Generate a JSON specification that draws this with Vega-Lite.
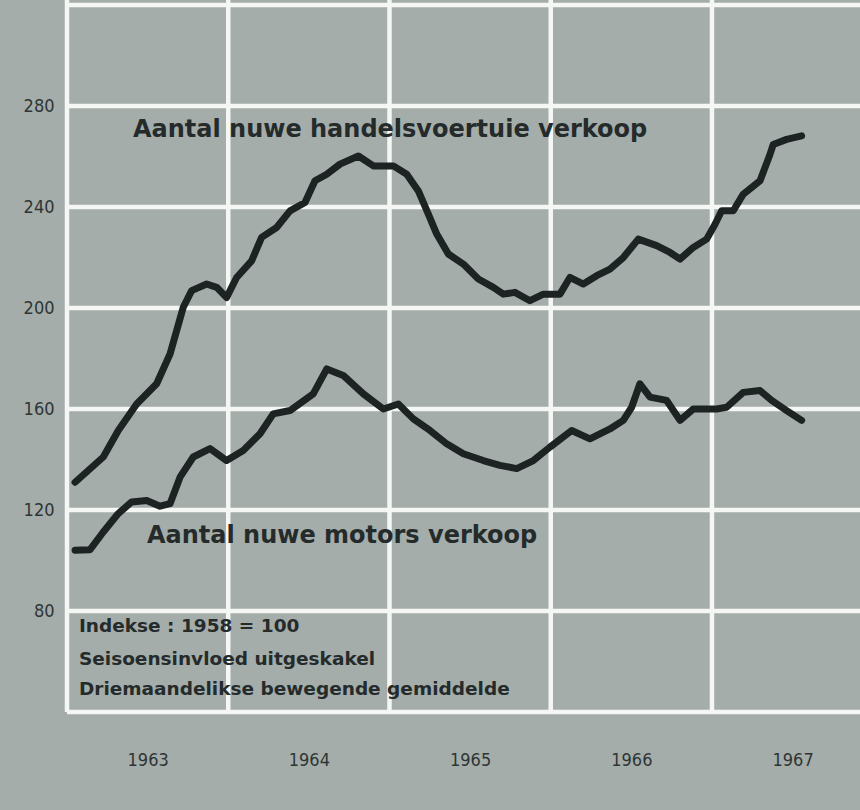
{
  "$schema": "https://vega.github.io/schema/vega-lite/v6.json",
  "width": 793,
  "height": 712,
  "autosize": {"type": "none"},
  "padding": {"left": 67, "top": 0, "right": 0, "bottom": 98},
  "background": "#a4adaa",
  "config": {
    "view": {"stroke": null, "fill": "#a4adaa"},
    "axis": {"grid": false, "ticks": false, "domain": false, "title": null,
      "labelFont": "Liberation Sans Narrow, DejaVu Sans Condensed, sans-serif",
      "labelFontSize": 18, "labelColor": "#2f3535"}
  },
  "datasets": {
    "reeks": [
      {"reeks": "handelsvoertuie", "jaar": 1963.050, "waarde": 131.0},
      {"reeks": "handelsvoertuie", "jaar": 1963.225, "waarde": 141.0},
      {"reeks": "handelsvoertuie", "jaar": 1963.318, "waarde": 151.5},
      {"reeks": "handelsvoertuie", "jaar": 1963.432, "waarde": 162.0},
      {"reeks": "handelsvoertuie", "jaar": 1963.556, "waarde": 170.0},
      {"reeks": "handelsvoertuie", "jaar": 1963.639, "waarde": 181.8},
      {"reeks": "handelsvoertuie", "jaar": 1963.721, "waarde": 200.3},
      {"reeks": "handelsvoertuie", "jaar": 1963.773, "waarde": 206.9},
      {"reeks": "handelsvoertuie", "jaar": 1963.866, "waarde": 209.5},
      {"reeks": "handelsvoertuie", "jaar": 1963.928, "waarde": 208.2},
      {"reeks": "handelsvoertuie", "jaar": 1963.990, "waarde": 204.2},
      {"reeks": "handelsvoertuie", "jaar": 1964.052, "waarde": 212.1},
      {"reeks": "handelsvoertuie", "jaar": 1964.145, "waarde": 218.7},
      {"reeks": "handelsvoertuie", "jaar": 1964.207, "waarde": 228.0},
      {"reeks": "handelsvoertuie", "jaar": 1964.300, "waarde": 231.9},
      {"reeks": "handelsvoertuie", "jaar": 1964.383, "waarde": 238.5},
      {"reeks": "handelsvoertuie", "jaar": 1964.476, "waarde": 241.8},
      {"reeks": "handelsvoertuie", "jaar": 1964.538, "waarde": 250.4},
      {"reeks": "handelsvoertuie", "jaar": 1964.611, "waarde": 253.0},
      {"reeks": "handelsvoertuie", "jaar": 1964.693, "waarde": 257.0},
      {"reeks": "handelsvoertuie", "jaar": 1964.807, "waarde": 260.2},
      {"reeks": "handelsvoertuie", "jaar": 1964.900, "waarde": 256.3},
      {"reeks": "handelsvoertuie", "jaar": 1965.024, "waarde": 256.3},
      {"reeks": "handelsvoertuie", "jaar": 1965.107, "waarde": 253.0},
      {"reeks": "handelsvoertuie", "jaar": 1965.179, "waarde": 246.4},
      {"reeks": "handelsvoertuie", "jaar": 1965.241, "waarde": 237.2},
      {"reeks": "handelsvoertuie", "jaar": 1965.293, "waarde": 229.3},
      {"reeks": "handelsvoertuie", "jaar": 1965.365, "waarde": 221.4},
      {"reeks": "handelsvoertuie", "jaar": 1965.458, "waarde": 217.4},
      {"reeks": "handelsvoertuie", "jaar": 1965.551, "waarde": 211.5},
      {"reeks": "handelsvoertuie", "jaar": 1965.644, "waarde": 208.2},
      {"reeks": "handelsvoertuie", "jaar": 1965.706, "waarde": 205.5},
      {"reeks": "handelsvoertuie", "jaar": 1965.778, "waarde": 206.2},
      {"reeks": "handelsvoertuie", "jaar": 1965.871, "waarde": 202.9},
      {"reeks": "handelsvoertuie", "jaar": 1965.954, "waarde": 205.5},
      {"reeks": "handelsvoertuie", "jaar": 1966.057, "waarde": 205.5},
      {"reeks": "handelsvoertuie", "jaar": 1966.119, "waarde": 212.1},
      {"reeks": "handelsvoertuie", "jaar": 1966.202, "waarde": 209.5},
      {"reeks": "handelsvoertuie", "jaar": 1966.285, "waarde": 212.8},
      {"reeks": "handelsvoertuie", "jaar": 1966.367, "waarde": 215.4},
      {"reeks": "handelsvoertuie", "jaar": 1966.450, "waarde": 220.0},
      {"reeks": "handelsvoertuie", "jaar": 1966.543, "waarde": 227.3},
      {"reeks": "handelsvoertuie", "jaar": 1966.657, "waarde": 224.7},
      {"reeks": "handelsvoertuie", "jaar": 1966.740, "waarde": 222.0},
      {"reeks": "handelsvoertuie", "jaar": 1966.802, "waarde": 219.4},
      {"reeks": "handelsvoertuie", "jaar": 1966.884, "waarde": 224.0},
      {"reeks": "handelsvoertuie", "jaar": 1966.967, "waarde": 227.3},
      {"reeks": "handelsvoertuie", "jaar": 1967.019, "waarde": 233.2},
      {"reeks": "handelsvoertuie", "jaar": 1967.060, "waarde": 238.5},
      {"reeks": "handelsvoertuie", "jaar": 1967.132, "waarde": 238.5},
      {"reeks": "handelsvoertuie", "jaar": 1967.194, "waarde": 245.1},
      {"reeks": "handelsvoertuie", "jaar": 1967.298, "waarde": 250.4},
      {"reeks": "handelsvoertuie", "jaar": 1967.360, "waarde": 260.9},
      {"reeks": "handelsvoertuie", "jaar": 1967.380, "waarde": 264.8},
      {"reeks": "handelsvoertuie", "jaar": 1967.463, "waarde": 266.8},
      {"reeks": "handelsvoertuie", "jaar": 1967.556, "waarde": 268.2},
      {"reeks": "motors", "jaar": 1963.050, "waarde": 104.1},
      {"reeks": "motors", "jaar": 1963.143, "waarde": 104.3},
      {"reeks": "motors", "jaar": 1963.225, "waarde": 111.3},
      {"reeks": "motors", "jaar": 1963.318, "waarde": 118.6},
      {"reeks": "motors", "jaar": 1963.401, "waarde": 123.2},
      {"reeks": "motors", "jaar": 1963.494, "waarde": 123.8},
      {"reeks": "motors", "jaar": 1963.577, "waarde": 121.5},
      {"reeks": "motors", "jaar": 1963.639, "waarde": 122.5},
      {"reeks": "motors", "jaar": 1963.701, "waarde": 133.0},
      {"reeks": "motors", "jaar": 1963.783, "waarde": 141.0},
      {"reeks": "motors", "jaar": 1963.887, "waarde": 144.3},
      {"reeks": "motors", "jaar": 1963.990, "waarde": 139.6},
      {"reeks": "motors", "jaar": 1964.093, "waarde": 143.6},
      {"reeks": "motors", "jaar": 1964.197, "waarde": 150.2},
      {"reeks": "motors", "jaar": 1964.279, "waarde": 158.1},
      {"reeks": "motors", "jaar": 1964.383, "waarde": 159.4},
      {"reeks": "motors", "jaar": 1964.527, "waarde": 166.0},
      {"reeks": "motors", "jaar": 1964.611, "waarde": 175.9},
      {"reeks": "motors", "jaar": 1964.713, "waarde": 173.3},
      {"reeks": "motors", "jaar": 1964.838, "waarde": 166.0},
      {"reeks": "motors", "jaar": 1964.962, "waarde": 160.0},
      {"reeks": "motors", "jaar": 1965.055, "waarde": 162.0},
      {"reeks": "motors", "jaar": 1965.148, "waarde": 156.1},
      {"reeks": "motors", "jaar": 1965.251, "waarde": 151.5},
      {"reeks": "motors", "jaar": 1965.355, "waarde": 146.2},
      {"reeks": "motors", "jaar": 1965.458, "waarde": 142.3},
      {"reeks": "motors", "jaar": 1965.582, "waarde": 139.6},
      {"reeks": "motors", "jaar": 1965.685, "waarde": 137.7},
      {"reeks": "motors", "jaar": 1965.789, "waarde": 136.4},
      {"reeks": "motors", "jaar": 1965.892, "waarde": 139.6},
      {"reeks": "motors", "jaar": 1965.995, "waarde": 144.9},
      {"reeks": "motors", "jaar": 1966.130, "waarde": 151.5},
      {"reeks": "motors", "jaar": 1966.243, "waarde": 148.2},
      {"reeks": "motors", "jaar": 1966.367, "waarde": 152.1},
      {"reeks": "motors", "jaar": 1966.450, "waarde": 155.5},
      {"reeks": "motors", "jaar": 1966.502, "waarde": 160.7},
      {"reeks": "motors", "jaar": 1966.553, "waarde": 170.0},
      {"reeks": "motors", "jaar": 1966.616, "waarde": 164.7},
      {"reeks": "motors", "jaar": 1966.719, "waarde": 163.4},
      {"reeks": "motors", "jaar": 1966.802, "waarde": 155.5},
      {"reeks": "motors", "jaar": 1966.884, "waarde": 160.0},
      {"reeks": "motors", "jaar": 1967.029, "waarde": 160.0},
      {"reeks": "motors", "jaar": 1967.091, "waarde": 160.7},
      {"reeks": "motors", "jaar": 1967.194, "waarde": 166.6},
      {"reeks": "motors", "jaar": 1967.298, "waarde": 167.3},
      {"reeks": "motors", "jaar": 1967.370, "waarde": 163.4},
      {"reeks": "motors", "jaar": 1967.463, "waarde": 159.4},
      {"reeks": "motors", "jaar": 1967.556, "waarde": 155.5}
    ],
    "vertikaal": [
      {"jaar": 1963}, {"jaar": 1964}, {"jaar": 1965}, {"jaar": 1966}, {"jaar": 1967}
    ],
    "horisontaal": [
      {"waarde": 40}, {"waarde": 80}, {"waarde": 120}, {"waarde": 160},
      {"waarde": 200}, {"waarde": 240}, {"waarde": 280}, {"waarde": 320}
    ],
    "opskrifte": [
      {"jaar": 1963.409, "waarde": 267.7, "teks": "Aantal nuwe handelsvoertuie verkoop"},
      {"jaar": 1963.496, "waarde": 106.9, "teks": "Aantal nuwe motors verkoop"}
    ],
    "notas": [
      {"jaar": 1963.074, "waarde": 71.7, "teks": "Indekse : 1958 = 100"},
      {"jaar": 1963.074, "waarde": 58.6, "teks": "Seisoensinvloed uitgeskakel"},
      {"jaar": 1963.074, "waarde": 46.7, "teks": "Driemaandelikse bewegende gemiddelde"}
    ]
  },
  "encoding": {
    "x": {
      "field": "jaar", "type": "quantitative",
      "scale": {"domain": [1963, 1967.918], "nice": false, "zero": false},
      "axis": {
        "values": [1963.5, 1964.5, 1965.5, 1966.5, 1967.5],
        "labelExpr": "floor(datum.value)",
        "labelPadding": 39, "labelBaseline": "top"
      }
    },
    "y": {
      "field": "waarde", "type": "quantitative",
      "scale": {"domain": [40, 322], "nice": false, "zero": false},
      "axis": {
        "values": [80, 120, 160, 200, 240, 280],
        "labelPadding": 13, "labelBaseline": "middle"
      }
    }
  },
  "layer": [
    {
      "data": {"name": "vertikaal"},
      "mark": {"type": "rule", "color": "#f5f7f5", "strokeWidth": 4.5},
      "encoding": {"y": null}
    },
    {
      "data": {"name": "horisontaal"},
      "mark": {"type": "rule", "color": "#f5f7f5", "strokeWidth": 4.5},
      "encoding": {"x": null}
    },
    {
      "data": {"name": "reeks"},
      "mark": {"type": "line", "color": "#1d2323", "strokeWidth": 7, "strokeJoin": "round", "strokeCap": "round"},
      "encoding": {"detail": {"field": "reeks"}}
    },
    {
      "data": {"name": "opskrifte"},
      "mark": {"type": "text", "align": "left", "baseline": "alphabetic", "font": "DejaVu Sans", "fontWeight": "bold", "fontSize": 24, "color": "#252b2b"},
      "encoding": {"text": {"field": "teks"}}
    },
    {
      "data": {"name": "notas"},
      "mark": {"type": "text", "align": "left", "baseline": "alphabetic", "font": "DejaVu Sans", "fontWeight": "bold", "fontSize": 18.5, "color": "#252b2b"},
      "encoding": {"text": {"field": "teks"}}
    }
  ]
}
